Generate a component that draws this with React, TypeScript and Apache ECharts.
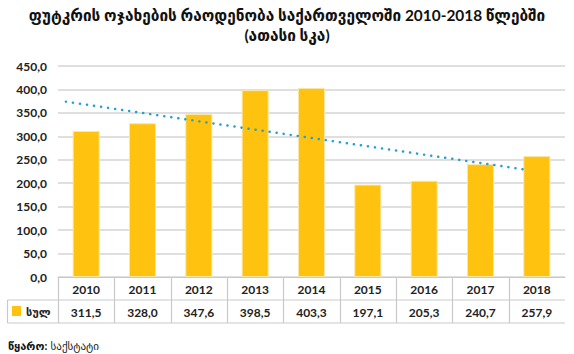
import React, { useEffect, useRef } from "react";
import * as echarts from "echarts";

const years = ["2010", "2011", "2012", "2013", "2014", "2015", "2016", "2017", "2018"];
const totals = [311.5, 328.0, 347.6, 398.5, 403.3, 197.1, 205.3, 240.7, 257.9];
// dotted trend line end points: [category position, value]
const trendPoints = [[-0.36, 374], [7.85, 228]];
const yTicks = { min: 0, max: 450, interval: 50 };

const titleText = "ფუტკრის ოჯახების რაოდენობა საქართველოში 2010-2018 წლებში\n(ათასი სკა)";
const seriesName = "სულ";
const sourceLabel = "წყარო:";
const sourceName = "საქსტატი";

const FONT = "Lato, 'DejaVu Sans', sans-serif";
const GOLD = "#FFC20E";
const LINE = "#c9c9c9";

const fmt = (v: number) => v.toFixed(1).replace(".", ",");

export default function App() {
  const ref = useRef<HTMLDivElement>(null);
  useEffect(() => {
    if (!ref.current) return;
    const chart = echarts.init(ref.current, undefined, { renderer: "svg" });
    chart.setOption({
      animation: false,
      textStyle: { fontFamily: FONT },
      title: {
        text: titleText,
        left: "center",
        top: 0,
        textStyle: { fontFamily: FONT, fontSize: 15.4, fontWeight: "bold", color: "#111", lineHeight: 20 },
      },
      grid: { left: 58, right: 9, top: 66, bottom: 77 },
      xAxis: [
        {
          type: "category",
          data: years,
          axisLine: { show: true, lineStyle: { color: LINE, width: 1.2 } },
          axisTick: { show: false },
          axisLabel: { fontFamily: FONT, fontWeight: "bold", fontSize: 12, color: "#222", margin: 6, interval: 0 },
        },
        {
          type: "category",
          data: years,
          position: "bottom",
          offset: 23,
          axisLine: { show: false },
          axisTick: { show: false },
          axisLabel: {
            fontFamily: FONT,
            fontWeight: "bold",
            fontSize: 12,
            color: "#222",
            margin: 6,
            interval: 0,
            formatter: (_v: string, i: number) => fmt(totals[i]),
          },
        },
        { type: "value", min: -0.5, max: 8.5, show: false },
      ],
      yAxis: {
        type: "value",
        min: yTicks.min,
        max: yTicks.max,
        interval: yTicks.interval,
        axisLine: { show: false },
        axisTick: { show: false },
        axisLabel: { formatter: (v: number) => fmt(v), fontFamily: FONT, fontWeight: "bold", fontSize: 12, color: "#222", margin: 11 },
        splitLine: { lineStyle: { color: "#d4d4d4", width: 1.5 } },
      },
      series: [
        {
          name: seriesName,
          type: "bar",
          data: totals,
          barWidth: "48%",
          itemStyle: { color: GOLD, borderColor: "#FBE6A6", borderWidth: 1 },
        },
        {
          type: "line",
          xAxisIndex: 2,
          data: trendPoints,
          symbol: "none",
          lineStyle: { color: "#1ea0d9", width: 2.5, type: [0.1, 7], cap: "round" },
          z: 5,
        },
      ],
    });

    const c0 = chart.convertToPixel({ xAxisIndex: 0 }, years[0]) as number;
    const c1 = chart.convertToPixel({ xAxisIndex: 0 }, years[1]) as number;
    const band = c1 - c0;
    const y0 = chart.convertToPixel({ yAxisIndex: 0 }, 0) as number;
    const left = c0 - band / 2;
    const right = left + band * years.length;
    const rowH = 23;
    const elements: any[] = [];
    const ls = { stroke: LINE, lineWidth: 1.2 };
    for (let i = 0; i < years.length; i++) {
      const x = Math.round(left + band * i) + 0.5;
      elements.push({ type: "line", shape: { x1: x, y1: y0, x2: x, y2: y0 + rowH * 2 }, style: ls, silent: true });
    }
    const x8 = 7.5;
    elements.push({ type: "line", shape: { x1: x8, y1: y0 + rowH, x2: right, y2: y0 + rowH }, style: ls });
    elements.push({ type: "line", shape: { x1: x8, y1: y0 + rowH * 2, x2: right, y2: y0 + rowH * 2 }, style: ls });
    elements.push({ type: "line", shape: { x1: x8, y1: y0 + rowH, x2: x8, y2: y0 + rowH * 2 }, style: ls });
    elements.push({ type: "rect", shape: { x: 12, y: y0 + rowH + 6, width: 9, height: 10 }, style: { fill: GOLD } });
    elements.push({
      type: "text",
      x: 26,
      y: y0 + rowH * 1.5,
      style: { text: seriesName, fontFamily: FONT, fontSize: 11, fontWeight: "bold", fill: "#222", verticalAlign: "middle" },
    });
    elements.push({
      type: "text",
      x: 8,
      y: 345,
      style: {
        text: "{b|" + sourceLabel + "} {n|" + sourceName + "}",
        verticalAlign: "middle",
        rich: {
          b: { fontFamily: FONT, fontSize: 11, fontWeight: "bold", fill: "#111" },
          n: { fontFamily: FONT, fontSize: 11, fill: "#222" },
        },
      },
    });
    chart.setOption({ graphic: { elements } });

    return () => chart.dispose();
  }, []);
  return <div ref={ref} style={{ width: 574, height: 354, position: "absolute", left: 0, top: 0 }} />;
}
